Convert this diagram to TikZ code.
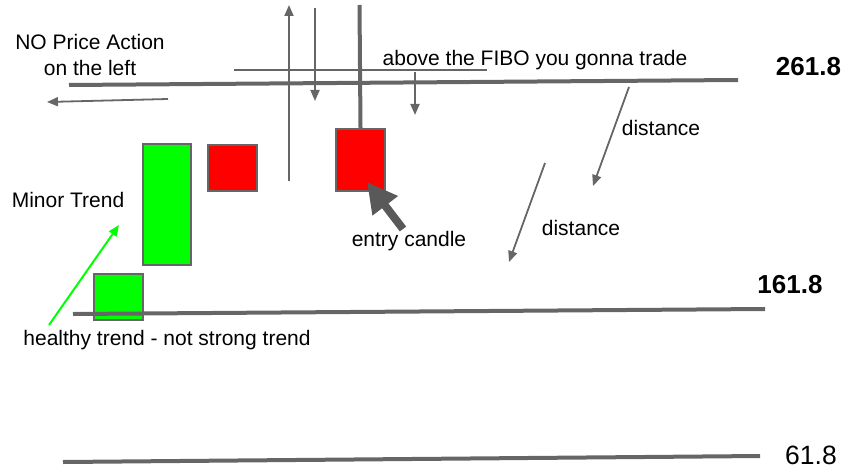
\documentclass[tikz,border=0pt]{standalone}
\usepackage{fontspec}
\setmainfont{Liberation Sans}
\usetikzlibrary{arrows.meta}
\definecolor{linegray}{HTML}{666666}
\definecolor{arrowgray}{HTML}{595959}
\definecolor{cgreen}{HTML}{00FF00}
\definecolor{cred}{HTML}{FF0000}
\begin{document}
\begin{tikzpicture}[x=1pt,y=-1pt,
  lbl/.style={inner sep=0pt, font=\fontsize{21}{26}\selectfont, text=black},
  bignum/.style={inner sep=0pt, font=\fontsize{26}{30}\selectfont\bfseries, text=black},
  fibo/.style={draw=linegray, line width=4pt},
  thinline/.style={draw=linegray, line width=1.8pt},
  arr/.style={draw=linegray, line width=1.8pt, -{Triangle[length=11pt,width=9pt]}},
  candle/.style={draw=linegray, line width=2pt, inner sep=0pt, anchor=north west},
]
\useasboundingbox (0,0) rectangle (842,468);

% candles
\node[candle, fill=cgreen, minimum width=48pt, minimum height=121pt] (gbig) at (142,143) {};
\node[candle, fill=cgreen, minimum width=49pt, minimum height=46pt] (gsmall) at (93,273) {};
\node[candle, fill=cred, minimum width=49pt, minimum height=46pt] (rsmall) at (207,144) {};
\node[candle, fill=cred, minimum width=49pt, minimum height=62pt] (entry) at (335,128) {};

% coordinates
\coordinate (fA1) at (69,85);   \coordinate (fA2) at (738,80);
\coordinate (fB1) at (73,314);  \coordinate (fB2) at (765,309);
\coordinate (fC1) at (63,462);  \coordinate (fC2) at (760,456);
\coordinate (u1) at (234,70);   \coordinate (u2) at (487,70);
\coordinate (la1) at (168,99);  \coordinate (la2) at (47,102);
\coordinate (up1) at (289,181); \coordinate (up2) at (289,5);
\coordinate (dn1) at (315,8);   \coordinate (dn2) at (315,101);
\coordinate (sd1) at (415,72);  \coordinate (sd2) at (415,115);
\coordinate (d1a) at (629,87);  \coordinate (d1b) at (593,186);
\coordinate (d2a) at (545,163); \coordinate (d2b) at (509,262);
\coordinate (g1) at (49,325);   \coordinate (g2) at (119,225);
\coordinate (bt) at (403,229);  \coordinate (btip) at (367,182);
\coordinate (wtop) at (359.5,5);

% fibo lines
\draw[fibo] (fA1) -- (fA2);
\draw[fibo] (fB1) -- (fB2);
\draw[fibo] (fC1) -- (fC2);

% thin line and arrows
\draw[thinline] (u1) -- (u2);
\draw[arr] (la1) -- (la2);
\draw[arr] (up1) -- (up2);
\draw[arr] (dn1) -- (dn2);
\draw[arr] (sd1) -- (sd2);
\draw[arr] (d1a) -- (d1b);
\draw[arr] (d2a) -- (d2b);
\draw[draw=cgreen, line width=2pt, -{Triangle[length=11pt,width=9pt]}] (g1) -- (g2);

% wick
\draw[draw=linegray, line width=4pt] (wtop) -- (entry.north);

% big pointer arrow
\draw[draw=arrowgray, line width=8pt, -{Triangle[length=30pt,width=30pt]}] (bt) -- (btip);

% labels
\node[lbl, align=center] (noprice) at (90,55) {NO Price Action\\on the left};
\node[lbl] (above) at (535,60) {above the FIBO you gonna trade};
\node[lbl] (minor) at (68,200) {Minor Trend};
\node[lbl] (entrylbl) at (409,241) {entry candle};
\node[lbl] (dist1) at (661,128) {distance};
\node[lbl] (dist2) at (581,228) {distance};
\node[lbl] (healthy) at (167,340) {healthy trend - not strong trend};
\node[bignum] (n261) at (808.5,67) {261.8};
\node[bignum] (n161) at (790,285) {161.8};
\node[lbl, font=\fontsize{26.5}{30}\selectfont] (n61) at (811,455) {61.8};
\end{tikzpicture}
\end{document}
